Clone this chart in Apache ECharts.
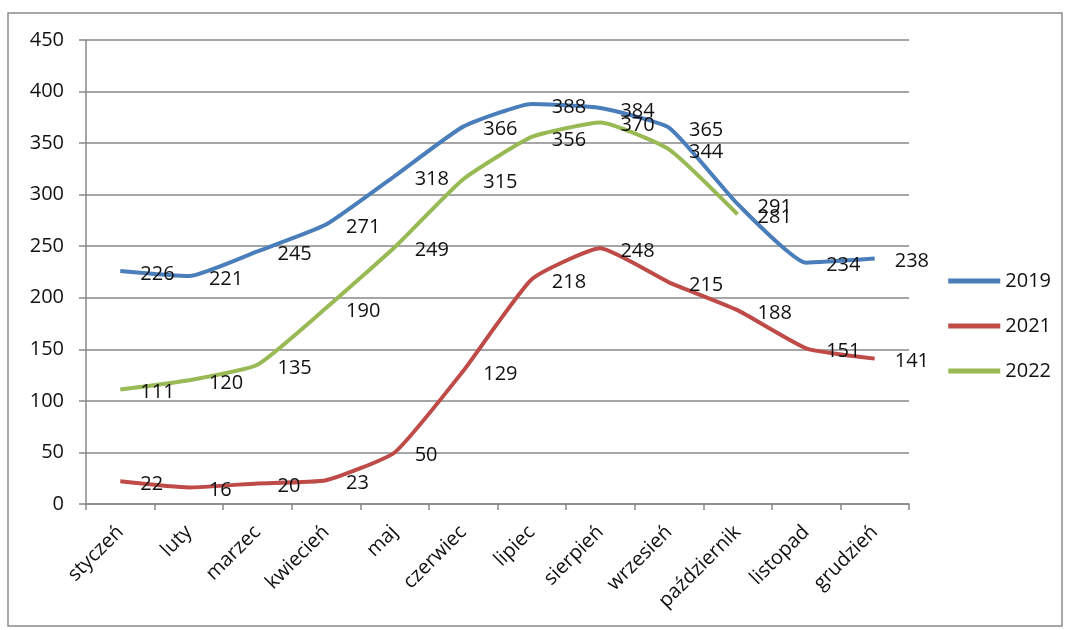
<!DOCTYPE html>
<html>
<head>
<meta charset="utf-8">
<script src="https://cdn.jsdelivr.net/npm/echarts@6/dist/echarts.min.js"></script>
<style>
  html, body { margin: 0; padding: 0; background: #fff; }
  #chart { width: 1068px; height: 630px; }
</style>
</head>
<body>
<div id="chart"></div>
<script>
const months = ['styczeń', 'luty', 'marzec', 'kwiecień', 'maj', 'czerwiec', 'lipiec', 'sierpień', 'wrzesień', 'październik', 'listopad', 'grudzień']
const y2019 = [226, 221, 245, 271, 318, 366, 388, 384, 365, 291, 234, 238]
const y2021 = [22, 16, 20, 23, 50, 129, 218, 248, 215, 188, 151, 141]
const y2022 = [111, 120, 135, 190, 249, 315, 356, 370, 344, 281]

const font = '"Open Sans", "Noto Sans", sans-serif'

const chart = echarts.init(document.getElementById('chart'))

function line (name, data, color) {
  return {
    name: name,
    type: 'line',
    data: data,
    smooth: 0.15,
    symbol: 'circle',
    symbolSize: 0,
    showSymbol: true,
    lineStyle: { color: color, width: 4 },
    itemStyle: { color: color },
    label: {
      show: true,
      position: 'right',
      distance: 20,
      offset: [0, 3],
      color: '#111',
      fontSize: 20,
      fontFamily: font
    },
    z: 3
  }
}

chart.setOption({
  animation: false,
  backgroundColor: '#fff',
  graphic: [{
    type: 'rect',
    shape: { x: 8, y: 13, width: 1054, height: 613 },
    style: { fill: 'none', stroke: '#8a8a8a', lineWidth: 1.5 },
    z: -1
  }],
  grid: { left: 86, top: 40, right: 159, bottom: 126 },
  legend: {
    orient: 'vertical',
    right: 12,
    top: 266,
    itemWidth: 52,
    itemHeight: 5,
    itemGap: 25,
    icon: 'rect',
    textStyle: { fontSize: 20, color: '#111', fontFamily: font },
    data: ['2019', '2021', '2022']
  },
  xAxis: {
    type: 'category',
    data: months,
    boundaryGap: true,
    axisLine: { lineStyle: { color: '#888', width: 1.5 } },
    axisTick: { show: true, length: 6, lineStyle: { color: '#888', width: 1.5 } },
    axisLabel: { rotate: 45, fontSize: 20, color: '#111', fontFamily: font, margin: 25, interval: 0 }
  },
  yAxis: {
    type: 'value',
    min: 0,
    max: 450,
    interval: 50,
    axisLine: { show: true, lineStyle: { color: '#888', width: 1.5 } },
    axisTick: { show: true, length: 7, lineStyle: { color: '#888', width: 1.5 } },
    axisLabel: { fontSize: 20, color: '#111', fontFamily: font, margin: 22 },
    splitLine: { lineStyle: { color: '#888', width: 1.5 } }
  },
  series: [
    line('2019', y2019, '#4a7ebb'),
    line('2021', y2021, '#be4b48'),
    line('2022', y2022, '#98b954')
  ]
})
</script>
</body>
</html>
